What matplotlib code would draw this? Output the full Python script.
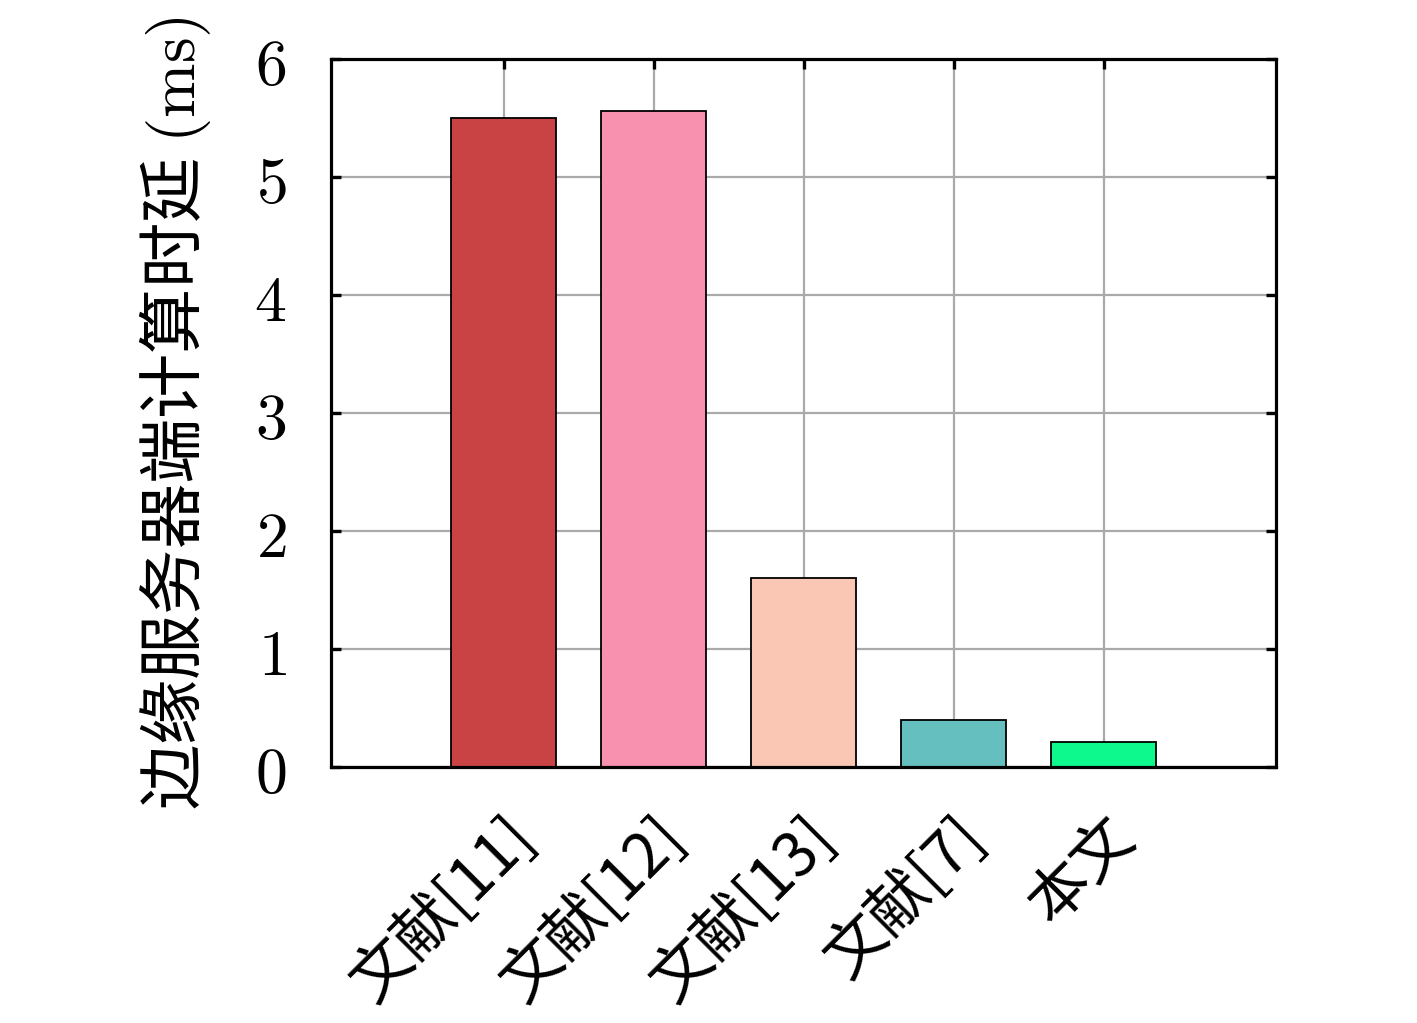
import matplotlib
matplotlib.use('Agg')
import matplotlib.pyplot as plt
import numpy as np

plt.rcParams['font.family'] = ['Noto Sans CJK SC', 'DejaVu Serif']
plt.rcParams['mathtext.fontset'] = 'cm'

labels = ['文献[11]', '文献[12]', '文献[13]', '文献[7]', '本文']
delays = [5.50, 5.56, 1.60, 0.40, 0.21]
colors = ['#C94345', '#F891B0', '#F9C7B4', '#66BFBF', '#0DF98D']
yticks = [0, 1, 2, 3, 4, 5, 6]

fig = plt.figure(figsize=(14.17, 10.23), dpi=100)
ax = fig.add_axes([331 / 1417, 1 - 767 / 1023, (1276 - 331) / 1417, (767 - 59) / 1023])

x = np.arange(len(labels))
ax.bar(x, delays, width=0.7, color=colors, edgecolor='black', linewidth=1.3, zorder=3)

ax.set_xlim(-1.15, 5.15)
ax.set_ylim(0, 6)
ax.set_yticks(yticks)
ax.set_yticklabels([f'${v}$' for v in yticks], fontsize=46)
ax.set_xticks(x)
ax.set_xticklabels(labels, rotation=45, ha='right', va='top', rotation_mode='anchor', fontsize=44)

ax.grid(True, color='#aaaaaa', linewidth=1.6, zorder=0)
ax.set_axisbelow(True)
ax.tick_params(axis='both', direction='in', length=7, width=2.4, top=True, right=True, zorder=4)
ax.tick_params(axis='x', pad=28)
ax.tick_params(axis='y', pad=32)
for s in ax.spines.values():
    s.set_linewidth(2.3)
    s.set_zorder(5)

ax.set_ylabel('边缘服务器端计算时延 $\\mathrm{(ms)}$', fontsize=47, labelpad=30)

fig.savefig('out.png', dpi=100)
